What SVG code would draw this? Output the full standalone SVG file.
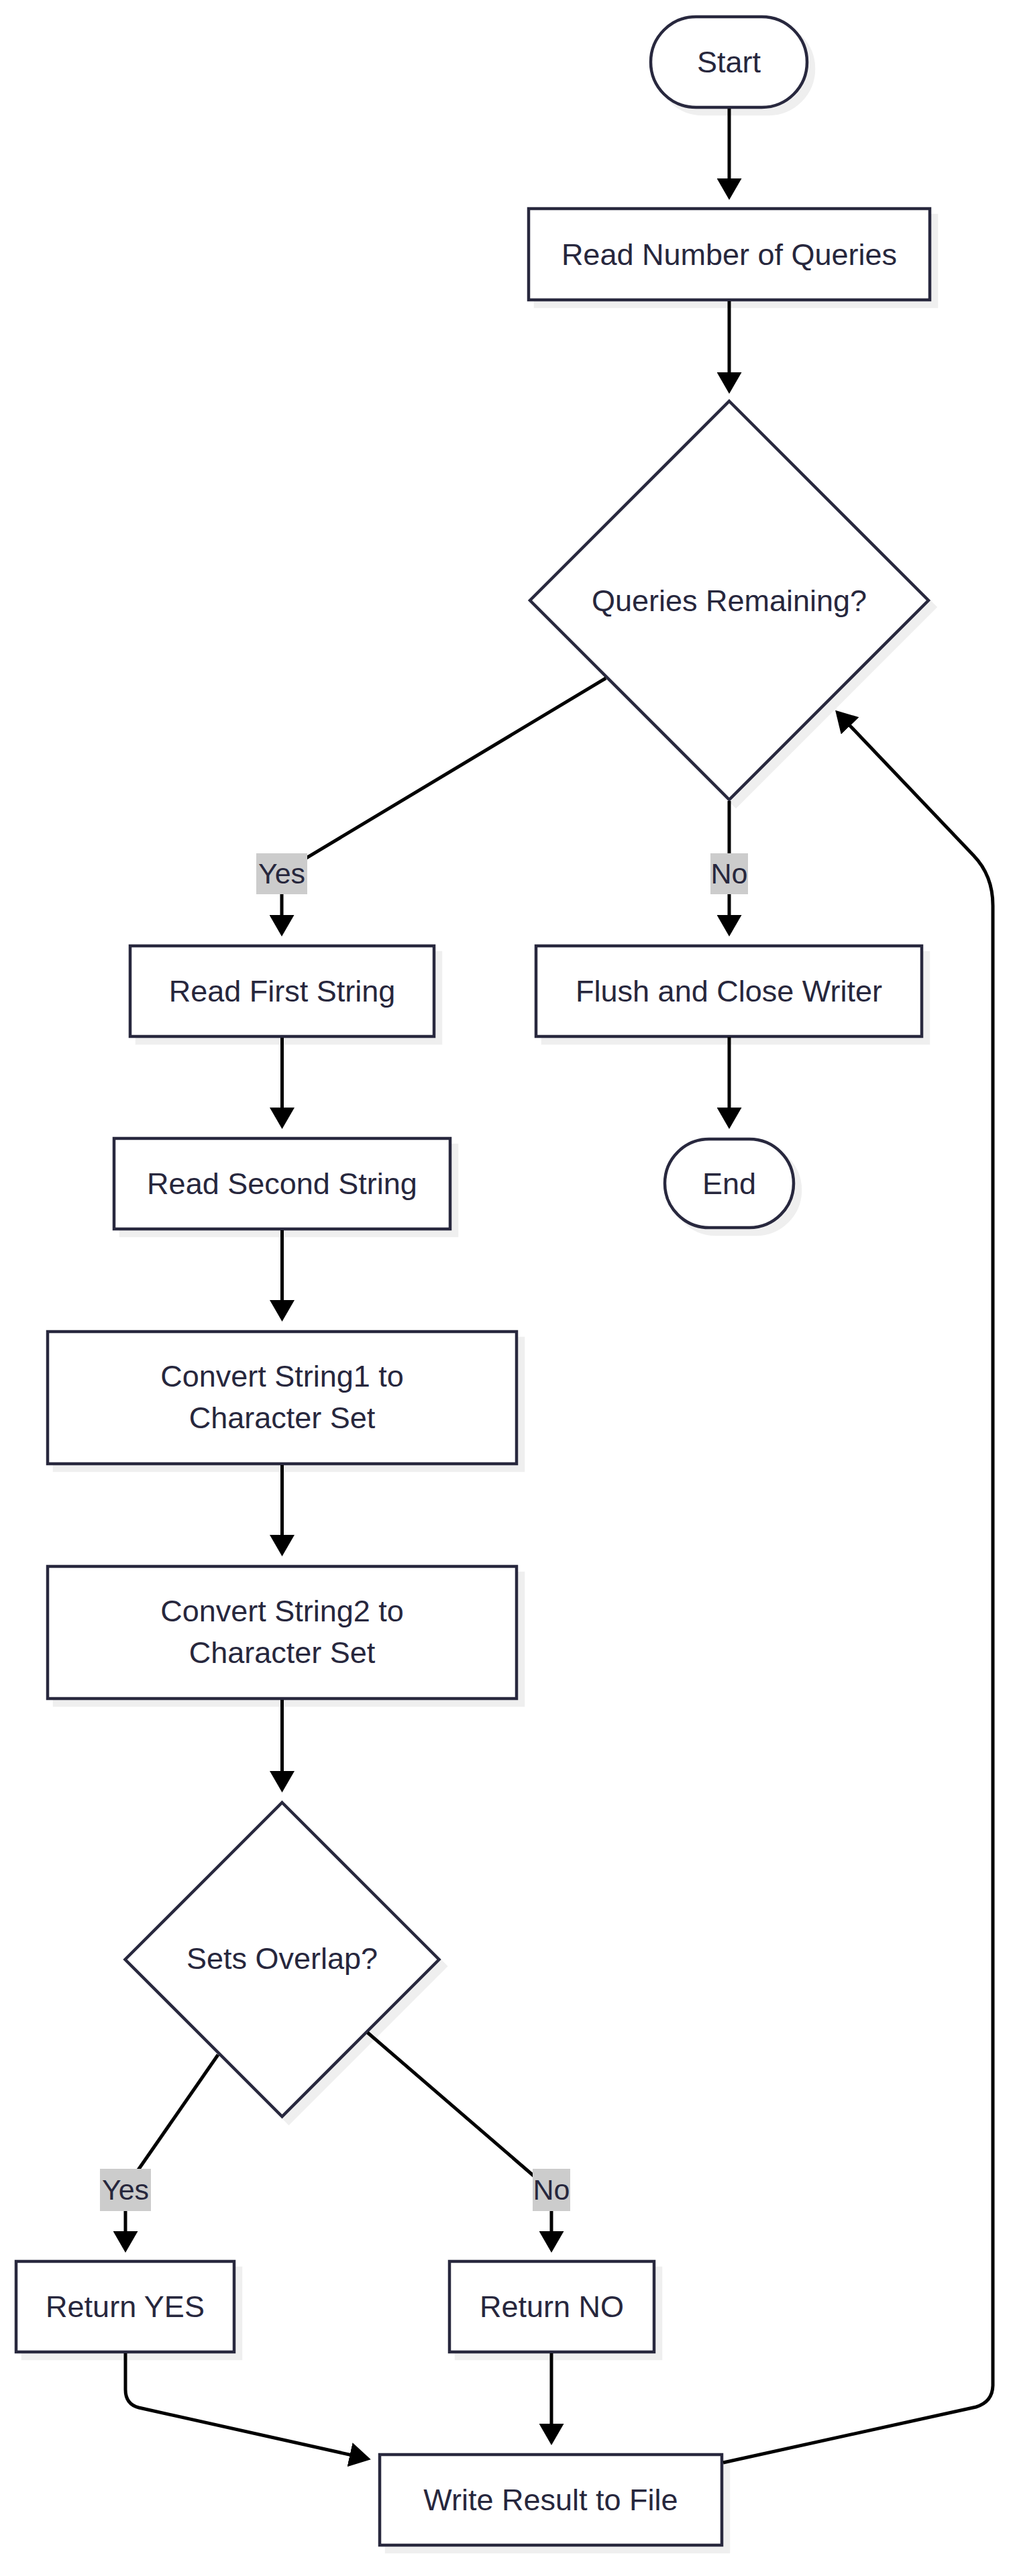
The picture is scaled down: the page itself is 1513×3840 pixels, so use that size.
<svg xmlns="http://www.w3.org/2000/svg" width="1513" height="3840" viewBox="0 0 1513 3840">
<style>
.bg{fill:#ffffff}
.shape{fill:#ffffff;stroke:#28283e;stroke-width:4.5}
.shadow{fill:#efefef;stroke:#efefef;stroke-width:4.5}
.edge{fill:none;stroke:#000000;stroke-width:5;marker-end:url(#arr)}
.lblbox{fill:#cccccc}
text{font-family:"Liberation Sans",Arial,sans-serif;font-size:45px;fill:#27273d;text-anchor:middle}
.lbl{font-size:43px}
</style>
<defs>
<marker id="arr" markerUnits="userSpaceOnUse" viewBox="0 0 32 37" markerWidth="32" markerHeight="37" refX="22" refY="18.5" orient="auto">
<path d="M0,0 L32,18.5 L0,37 z" fill="#000000"/>
</marker>
</defs>
<rect class="bg" x="0" y="0" width="1513" height="3840"/>

<g id="nodes">
<g id="start">
<rect class="shadow" x="980" y="35" width="233" height="135" rx="67.5"/>
<rect class="shape" x="970" y="25" width="233" height="135" rx="67.5"/>
<text x="1086.5" y="108">Start</text>
</g>
<g id="readNumber">
<rect class="shadow" x="798" y="321" width="598" height="136"/>
<rect class="shape" x="788" y="311" width="598" height="136"/>
<text x="1087" y="394.5">Read Number of Queries</text>
</g>
<g id="queriesRemaining">
<polygon class="shadow" points="1097,608 1394,905 1097,1202 800,905"/>
<polygon class="shape" points="1087,598 1384,895 1087,1192 790,895"/>
<text x="1087" y="910.5">Queries Remaining?</text>
</g>
<g id="readFirst">
<rect class="shadow" x="204" y="1420" width="453" height="135"/>
<rect class="shape" x="194" y="1410" width="453" height="135"/>
<text x="420.5" y="1493">Read First String</text>
</g>
<g id="flush">
<rect class="shadow" x="809" y="1420" width="575" height="135"/>
<rect class="shape" x="799" y="1410" width="575" height="135"/>
<text x="1086.5" y="1493">Flush and Close Writer</text>
</g>
<g id="readSecond">
<rect class="shadow" x="180" y="1707" width="501" height="135"/>
<rect class="shape" x="170" y="1697" width="501" height="135"/>
<text x="420.5" y="1780">Read Second String</text>
</g>
<g id="end">
<rect class="shadow" x="1001" y="1708" width="192" height="132" rx="66"/>
<rect class="shape" x="991" y="1698" width="192" height="132" rx="66"/>
<text x="1087" y="1780">End</text>
</g>
<g id="convert1">
<rect class="shadow" x="81" y="1995" width="699" height="197"/>
<rect class="shape" x="71" y="1985" width="699" height="197"/>
<text x="420.5" y="2067">Convert String1 to</text>
<text x="420.5" y="2129">Character Set</text>
</g>
<g id="convert2">
<rect class="shadow" x="81" y="2345" width="699" height="197"/>
<rect class="shape" x="71" y="2335" width="699" height="197"/>
<text x="420.5" y="2417">Convert String2 to</text>
<text x="420.5" y="2479">Character Set</text>
</g>
<g id="setsOverlap">
<polygon class="shadow" points="430.5,2697 664.5,2931 430.5,3165 196.5,2931"/>
<polygon class="shape" points="420.5,2687 654.5,2921 420.5,3155 186.5,2921"/>
<text x="420.5" y="2935">Sets Overlap?</text>
</g>
<g id="returnYes">
<rect class="shadow" x="34" y="3381" width="325" height="135"/>
<rect class="shape" x="24" y="3371" width="325" height="135"/>
<text x="186.5" y="3454">Return YES</text>
</g>
<g id="returnNo">
<rect class="shadow" x="680" y="3381" width="305" height="135"/>
<rect class="shape" x="670" y="3371" width="305" height="135"/>
<text x="822.5" y="3454">Return NO</text>
</g>
<g id="writeResult">
<rect class="shadow" x="576" y="3669" width="510" height="135"/>
<rect class="shape" x="566" y="3659" width="510" height="135"/>
<text x="821" y="3742">Write Result to File</text>
</g>
</g>

<g id="connectors">
<path class="edge" d="M1087,162 L1087,288"/>
<path class="edge" d="M1087,449 L1087,577"/>
<path class="edge" d="M903,1011 L440,1289 Q420,1301 420,1320 L420,1386"/>
<path class="edge" d="M1087,1194 L1087,1386"/>
<path class="edge" d="M420.5,1547 L420.5,1673"/>
<path class="edge" d="M1087,1546 L1087,1673"/>
<path class="edge" d="M420.5,1834 L420.5,1960"/>
<path class="edge" d="M420.5,2184 L420.5,2310"/>
<path class="edge" d="M420.5,2534 L420.5,2662"/>
<path class="edge" d="M325,3063 L196,3249 Q187,3262 187,3276 L187,3348"/>
<path class="edge" d="M548,3030 L810,3256 Q822,3266 822,3280 L822,3348"/>
<path class="edge" d="M187,3508 L187,3562 Q187,3584 207,3589 L543,3664"/>
<path class="edge" d="M822,3508 L822,3635"/>
<path class="edge" d="M1078,3671 L1455,3588 Q1480,3580 1480,3555 L1480,1350 Q1480,1305 1451,1275 L1252,1066"/>
</g>

<g id="edgeLabels">
<g id="labelYes1">
<rect class="lblbox" x="382" y="1272" width="76" height="61"/>
<text class="lbl" x="420" y="1317">Yes</text>
</g>
<g id="labelNo1">
<rect class="lblbox" x="1059" y="1272" width="56" height="61"/>
<text class="lbl" x="1087" y="1317">No</text>
</g>
<g id="labelYes2">
<rect class="lblbox" x="149" y="3233" width="76" height="63"/>
<text class="lbl" x="187" y="3279">Yes</text>
</g>
<g id="labelNo2">
<rect class="lblbox" x="794" y="3233" width="56" height="63"/>
<text class="lbl" x="822" y="3279">No</text>
</g>
</g>
</svg>
